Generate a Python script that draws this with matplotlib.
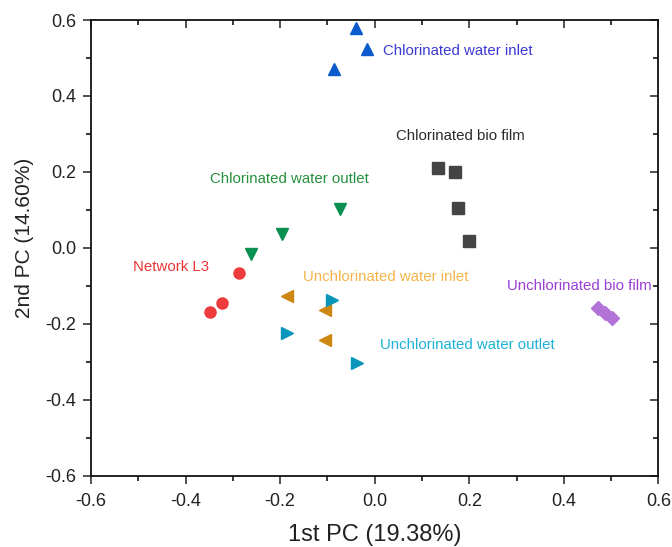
import matplotlib
matplotlib.use("Agg")
import matplotlib.pyplot as plt
import matplotlib.lines as mlines
from matplotlib.ticker import MultipleLocator

plt.rcParams['font.family'] = ['Liberation Sans', 'DejaVu Sans']

# Data (PC1, PC2) per group
cw_inlet_x = [-0.040, -0.017, -0.087]
cw_inlet_y = [0.579, 0.524, 0.470]

c_biofilm_x = [0.133, 0.169, 0.177, 0.199]
c_biofilm_y = [0.210, 0.199, 0.106, 0.019]

cw_outlet_x = [-0.074, -0.196, -0.262]
cw_outlet_y = [0.103, 0.036, -0.016]

net_l3_x = [-0.287, -0.323, -0.349]
net_l3_y = [-0.066, -0.145, -0.169]

uw_inlet_x = [-0.186, -0.106, -0.106]
uw_inlet_y = [-0.127, -0.164, -0.243]

uw_outlet_x = [-0.091, -0.186, -0.038]
uw_outlet_y = [-0.137, -0.224, -0.304]

u_biofilm_x = [0.473, 0.486, 0.501]
u_biofilm_y = [-0.159, -0.171, -0.184]

group_names = ["Chlorinated water inlet", "Chlorinated bio film", "Chlorinated water outlet",
               "Network L3", "Unchlorinated water inlet", "Unchlorinated bio film",
               "Unchlorinated water outlet"]

x_label = "1st PC (19.38%)"
y_label = "2nd PC (14.60%)"

fig = plt.figure(figsize=(6.72, 5.47), dpi=100)
ax = fig.add_axes([0.1354, 0.1303, 0.8445, 0.8331])

ax.plot(cw_inlet_x, cw_inlet_y, '^', color='#0a5ccc', ms=9, ls='none')
ax.plot(c_biofilm_x, c_biofilm_y, 's', color='#444444', ms=8, ls='none')
ax.plot(cw_outlet_x, cw_outlet_y, 'v', color='#0a9050', ms=9, ls='none')
ax.plot(net_l3_x, net_l3_y, 'o', color='#ee3b3b', ms=8, ls='none')
ax.plot(uw_inlet_x, uw_inlet_y, '<', color='#cc8810', ms=9, ls='none')
ax.plot(uw_outlet_x, uw_outlet_y, '>', color='#0996bb', ms=9, ls='none')
ax.plot(u_biofilm_x, u_biofilm_y, 'D', color='#b273d6', ms=7.5, ls='none')

fs = 10.8
label_specs = [
    (0.017, 0.518, '#3a3ad6'),
    (0.045, 0.294, '#2a2a2a'),
    (-0.348, 0.181, '#25903c'),
    (-0.511, -0.050, '#ec3535'),
    (-0.152, -0.077, '#f4b54a'),
    (0.280, -0.100, '#9a3fd6'),
    (0.011, -0.256, '#1fb2d8'),
]
for name, (tx, ty, c) in zip(group_names, label_specs):
    ax.text(tx, ty, name, color=c, fontsize=fs, va='center', ha='left')

ax.set_xlim(-0.6, 0.6)
ax.set_ylim(-0.6, 0.6)
ax.xaxis.set_major_locator(MultipleLocator(0.2))
ax.xaxis.set_minor_locator(MultipleLocator(0.1))
ax.yaxis.set_major_locator(MultipleLocator(0.2))
ax.yaxis.set_minor_locator(MultipleLocator(0.1))
ax.xaxis.set_major_formatter(plt.FuncFormatter(lambda v, p: f"{v:.1f}"))
ax.yaxis.set_major_formatter(plt.FuncFormatter(lambda v, p: f"{v:.1f}"))

ax.tick_params(axis='both', which='major', direction='out', length=5.8, width=1.1,
               labelsize=13, colors='#222222')
ax.tick_params(axis='both', which='minor', direction='out', length=3.6, width=1.1)
ax.tick_params(axis='x', which='major', pad=6.5)
ax.tick_params(axis='y', which='major', pad=5)
ax.tick_params(top=True, right=True, which='both')
# top/right ticks inward
for t in ax.xaxis.get_major_ticks() + ax.xaxis.get_minor_ticks():
    t.tick2line.set_marker(mlines.TICKDOWN)
for t in ax.yaxis.get_major_ticks() + ax.yaxis.get_minor_ticks():
    t.tick2line.set_marker(mlines.TICKLEFT)

for sp in ax.spines.values():
    sp.set_linewidth(1.3)
    sp.set_color('#111111')

ax.set_xlabel(x_label, fontsize=17, color='#222222', va='center')
ax.xaxis.set_label_coords(0.5, -0.130)
ax.set_ylabel(y_label, fontsize=15, color='#222222', va='center')
ax.yaxis.set_label_coords(-0.118, 0.522)

fig.savefig("out.png", dpi=100)
